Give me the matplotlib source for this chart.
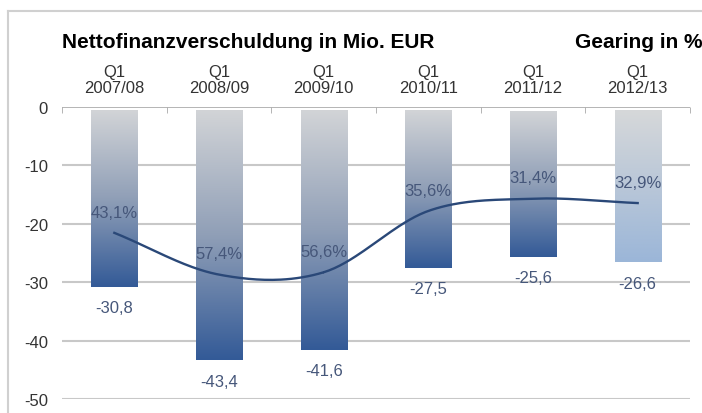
import numpy as np
import matplotlib.pyplot as plt
from matplotlib.colors import LinearSegmentedColormap
from matplotlib.lines import Line2D

plt.rcParams['font.family'] = ['Liberation Sans', 'DejaVu Sans']

quarters = ["Q1\n2007/08", "Q1\n2008/09", "Q1\n2009/10", "Q1\n2010/11", "Q1\n2011/12", "Q1\n2012/13"]
debt = [-30.8, -43.4, -41.6, -27.5, -25.6, -26.6]
debt_labels = ["-30,8", "-43,4", "-41,6", "-27,5", "-25,6", "-26,6"]
gearing = [43.1, 57.4, 56.6, 35.6, 31.4, 32.9]
gearing_labels = ["43,1%", "57,4%", "56,6%", "35,6%", "31,4%", "32,9%"]


def smooth(xs, ys, n=40):
    # catmull-rom curve through the points, like the office "smoothed line"
    xs = np.asarray(xs, float)
    ys = np.asarray(ys, float)
    px = np.concatenate([[2 * xs[0] - xs[1]], xs, [2 * xs[-1] - xs[-2]]])
    py = np.concatenate([[2 * ys[0] - ys[1]], ys, [2 * ys[-1] - ys[-2]]])
    out_x, out_y = [], []
    t = np.linspace(0, 1, n)
    for i in range(1, len(px) - 2):
        for p, out in ((px, out_x), (py, out_y)):
            p0, p1, p2, p3 = p[i - 1], p[i], p[i + 1], p[i + 2]
            out.extend(0.5 * (2 * p1 + (-p0 + p2) * t
                              + (2 * p0 - 5 * p1 + 4 * p2 - p3) * t ** 2
                              + (-p0 + 3 * p1 - 3 * p2 + p3) * t ** 3))
    return np.array(out_x), np.array(out_y)


fig = plt.figure(figsize=(7.02, 4.14), dpi=100)
ax = fig.add_axes([62 / 702, 1 - 400 / 414, 628 / 702, 292 / 414])

x = np.arange(len(debt))
w = 0.44

dark = LinearSegmentedColormap.from_list("dark", ["#d2d4d7", "#909fb7", "#335a97"])
light = LinearSegmentedColormap.from_list("light", ["#d6d8da", "#b9c7d8", "#9bb6d8"])
grad = np.linspace(0, 1, 256).reshape(-1, 1)

bars = ax.bar(x, debt, width=w, color="none", zorder=2)
for i, b in enumerate(bars):
    cmap = light if i == len(debt) - 1 else dark
    ax.imshow(grad, cmap=cmap, aspect="auto", zorder=2,
              extent=[b.get_x(), b.get_x() + w, debt[i], -0.6])
    ax.annotate(debt_labels[i], (x[i], debt[i]), xytext=(0, -15),
                textcoords="offset points", ha="center", va="center",
                fontsize=12, color="#46577a")

ax.set_xlim(-0.5, len(debt) - 0.5)
ax.set_ylim(-50, 0)
ax.set_yticks([0, -10, -20, -30, -40, -50])
ax.set_yticklabels(["0", "-10", "-20", "-30", "-40", "-50"])
ax.tick_params(axis="y", length=0, labelsize=12, pad=10, colors="#333333")
for v in [-10, -20, -30, -40, -50]:
    ax.axhline(v, color="#c8c8c8", lw=1.5, zorder=1)
ax.axhline(0, color="#a8a8a8", lw=1.2, zorder=3)
ax.set_xticks(np.arange(len(debt) + 1) - 0.5, minor=True)
ax.tick_params(axis="x", which="minor", length=4, direction="in", colors="#a8a8a8", top=True, bottom=False)
ax.set_xticks([])
for s in ax.spines.values():
    s.set_visible(False)

for i, q in enumerate(quarters):
    ax.text(x[i], 1.04, q, transform=ax.get_xaxis_transform(), ha="center", va="bottom",
            fontsize=12, color="#333333", linespacing=1.15)

ax2 = ax.twinx()
ax2.set_ylim(100, 0)
ax2.axis("off")
sx, sy = smooth(x, gearing)
ax2.plot(sx, sy, color="#2a4878", lw=1.7, zorder=5)
for i, g in enumerate(gearing):
    ax2.annotate(gearing_labels[i], (x[i], g), xytext=(0, 15),
                 textcoords="offset points", ha="center", va="center",
                 fontsize=12, color="#46577a")

fig.text(62 / 702, 1 - 43 / 414, "Nettofinanzverschuldung in Mio. EUR", fontsize=15,
         fontweight="bold", ha="left", va="center")
fig.text(575 / 702, 1 - 43 / 414, "Gearing in %", fontsize=15,
         fontweight="bold", ha="left", va="center")

fig.add_artist(Line2D([8 / 702, 8 / 702], [0, 1 - 12 / 414], transform=fig.transFigure, color="#d0d0d0", lw=1.5))
fig.add_artist(Line2D([8 / 702, 1], [1 - 12 / 414, 1 - 12 / 414], transform=fig.transFigure, color="#d0d0d0", lw=1.5))

fig.savefig("out.png", dpi=100)
